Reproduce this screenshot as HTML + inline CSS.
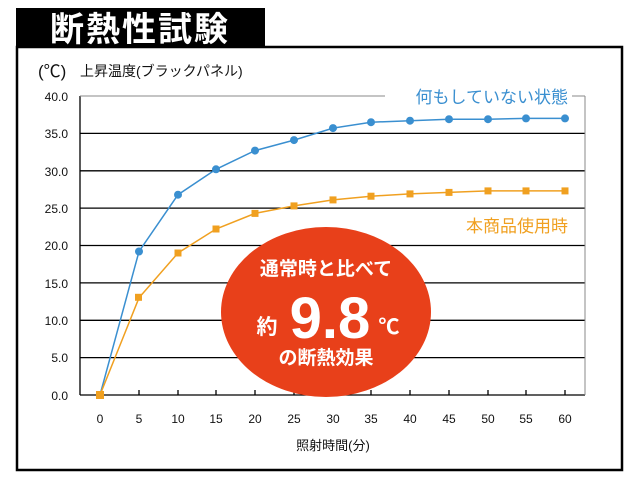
<!DOCTYPE html>
<html><head><meta charset="utf-8"><style>
body{margin:0;background:#fff}
text{font-family:"Liberation Sans","Noto Sans CJK JP",sans-serif}
</style></head><body>
<svg width="640" height="480" viewBox="0 0 640 480" xmlns="http://www.w3.org/2000/svg">
<rect width="640" height="480" fill="#fff"/>
<rect x="17" y="47" width="605" height="423" fill="none" stroke="#000" stroke-width="2.5"/>
<rect x="16" y="8" width="249" height="40" fill="#000"/>
<text x="140" y="41" fill="#fff" font-size="34" font-weight="bold" text-anchor="middle" letter-spacing="2">断熱性試験</text>
<text x="38" y="77" font-size="17" fill="#111">(℃)</text>
<text x="80" y="76" font-size="14" fill="#111">上昇温度(ブラックパネル)</text>
<g stroke="#000" stroke-width="1.3">
<line x1="80" y1="133.4" x2="585" y2="133.4"/><line x1="80" y1="170.8" x2="585" y2="170.8"/>
<line x1="80" y1="208.1" x2="585" y2="208.1"/><line x1="80" y1="245.5" x2="585" y2="245.5"/>
<line x1="80" y1="282.9" x2="585" y2="282.9"/><line x1="80" y1="320.3" x2="585" y2="320.3"/>
<line x1="80" y1="357.6" x2="585" y2="357.6"/><line x1="80" y1="395" x2="585" y2="395"/>
<line x1="80" y1="96" x2="80" y2="395"/>
</g>
<line x1="80" y1="96" x2="585" y2="96" stroke="#888"/>
<line x1="585" y1="96" x2="585" y2="395" stroke="#888"/>
<g stroke="#000" stroke-width="1.3">
<line x1="139" y1="390" x2="139" y2="395"/><line x1="178" y1="390" x2="178" y2="395"/><line x1="216" y1="390" x2="216" y2="395"/><line x1="255" y1="390" x2="255" y2="395"/><line x1="294" y1="390" x2="294" y2="395"/><line x1="333" y1="390" x2="333" y2="395"/><line x1="371" y1="390" x2="371" y2="395"/><line x1="410" y1="390" x2="410" y2="395"/><line x1="449" y1="390" x2="449" y2="395"/><line x1="488" y1="390" x2="488" y2="395"/><line x1="526" y1="390" x2="526" y2="395"/><line x1="565" y1="390" x2="565" y2="395"/>
</g>
<g font-size="12" fill="#111" text-anchor="end">
<text x="68" y="101">40.0</text><text x="68" y="138">35.0</text><text x="68" y="176">30.0</text><text x="68" y="213">25.0</text><text x="68" y="250">20.0</text><text x="68" y="288">15.0</text><text x="68" y="325">10.0</text><text x="68" y="362">5.0</text><text x="68" y="400">0.0</text>
</g>
<g font-size="12" fill="#111" text-anchor="middle">
<text x="100" y="423">0</text><text x="139" y="423">5</text><text x="178" y="423">10</text><text x="216" y="423">15</text><text x="255" y="423">20</text><text x="294" y="423">25</text><text x="333" y="423">30</text><text x="371" y="423">35</text><text x="410" y="423">40</text><text x="449" y="423">45</text><text x="488" y="423">50</text><text x="526" y="423">55</text><text x="565" y="423">60</text>
</g>
<text x="333" y="450" font-size="13" fill="#111" text-anchor="middle">照射時間(分)</text>
<polyline fill="none" stroke="#3a8fd0" stroke-width="1.5" points="100,395 139,251.5 178,194.7 216,169.3 255,150.6 294,140.1 333,128.1 371,122.2 410,120.7 449,119.2 488,119.2 526,118.4 565,118.4"/>
<g fill="#3a8fd0">
<circle cx="139" cy="251.5" r="4"/><circle cx="178" cy="194.7" r="4"/><circle cx="216" cy="169.3" r="4"/><circle cx="255" cy="150.6" r="4"/><circle cx="294" cy="140.1" r="4"/><circle cx="333" cy="128.1" r="4"/><circle cx="371" cy="122.2" r="4"/><circle cx="410" cy="120.7" r="4"/><circle cx="449" cy="119.2" r="4"/><circle cx="488" cy="119.2" r="4"/><circle cx="526" cy="118.4" r="4"/><circle cx="565" cy="118.4" r="4"/>
</g>
<polyline fill="none" stroke="#f0a020" stroke-width="1.5" points="100,395 139,297.8 178,253 216,229 255,213.4 294,205.9 333,199.9 371,196.2 410,193.9 449,192.4 488,190.9 526,190.9 565,190.9"/>
<g fill="#f0a020">
<rect x="96" y="391" width="8" height="8"/><rect x="135" y="293.8" width="7" height="7"/><rect x="174.5" y="249.5" width="7" height="7"/><rect x="212.5" y="225.5" width="7" height="7"/><rect x="251.5" y="209.9" width="7" height="7"/><rect x="290.5" y="202.4" width="7" height="7"/><rect x="329.5" y="196.4" width="7" height="7"/><rect x="367.5" y="192.7" width="7" height="7"/><rect x="406.5" y="190.4" width="7" height="7"/><rect x="445.5" y="188.9" width="7" height="7"/><rect x="484.5" y="187.4" width="7" height="7"/><rect x="522.5" y="187.4" width="7" height="7"/><rect x="561.5" y="187.4" width="7" height="7"/>
</g>
<rect x="385" y="86" width="192" height="20" fill="#fff"/>
<text x="568" y="103" font-size="17" fill="#3a8fd0" text-anchor="end">何もしていない状態</text>
<line x1="572" y1="96" x2="585" y2="96" stroke="#888"/>
<rect x="440" y="214" width="135" height="22" fill="#fff"/>
<text x="568" y="232" font-size="17" fill="#f0a020" text-anchor="end">本商品使用時</text>
<ellipse cx="326" cy="312" rx="105" ry="85" fill="#e8401a"/>
<text x="326" y="275" font-size="19" font-weight="bold" fill="#fff" text-anchor="middle">通常時と比べて</text>
<text x="267" y="334" font-size="21" font-weight="bold" fill="#fff" text-anchor="middle">約</text>
<text x="330" y="338" font-size="58" font-weight="bold" fill="#fff" text-anchor="middle">9.8</text>
<text x="389" y="334" font-size="21" font-weight="bold" fill="#fff" text-anchor="middle">℃</text>
<text x="326" y="364" font-size="19" font-weight="bold" fill="#fff" text-anchor="middle">の断熱効果</text>
</svg>
</body></html>
